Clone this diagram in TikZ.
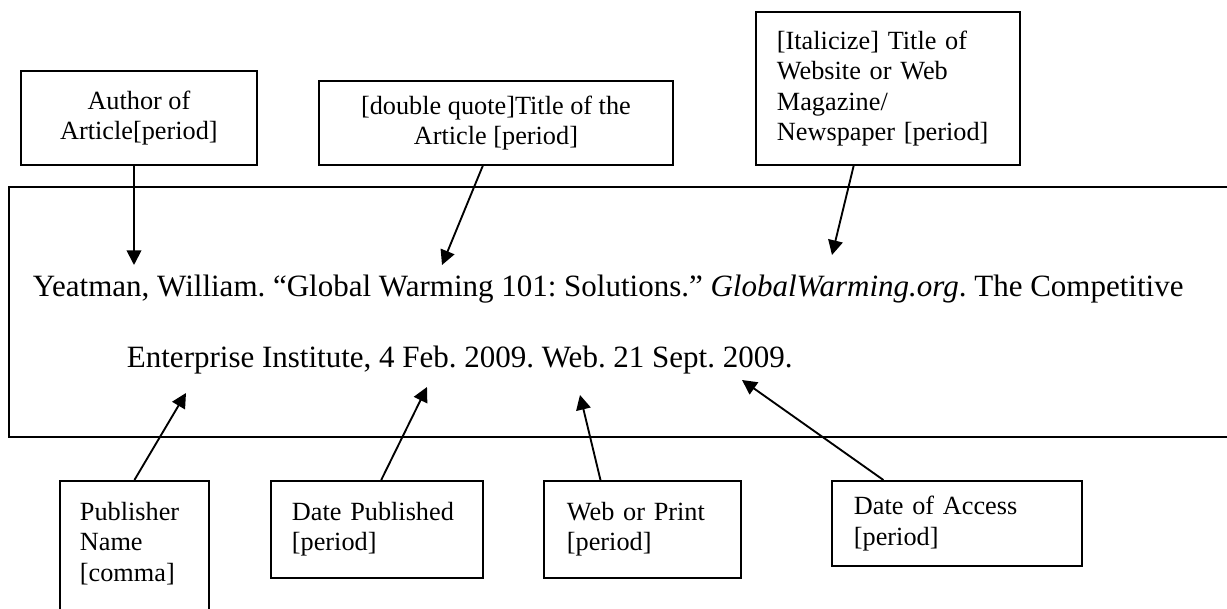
\documentclass[tikz,border=0pt]{standalone}
\usepackage{fontspec}
\setmainfont{Liberation Serif}
\usetikzlibrary{arrows.meta, positioning, calc}
\frenchspacing

\begin{document}
\begin{tikzpicture}[x=0.75pt, y=-0.75pt, line width=1.4pt,
    box/.style={draw, anchor=north west, font=\fontsize{19.7}{22.7}\selectfont},
    cbox/.style={box, align=center, inner sep=0pt},
    lbox/.style={box, align=left, inner ysep=0pt},
    arr/.style={-{Triangle[length=11pt,width=11pt]}},
    cite/.style={anchor=base west, inner sep=0pt, font=\fontsize{23.25}{27}\selectfont}]
   \useasboundingbox (0,0) rectangle (1227,609);

   % the citation, open on the right
   \draw (1227,187) -- (9,187) -- (9,437) -- (1227,437);
   \node[cite] (line1) at (32,297) {Yeatman, William. “Global Warming 101: Solutions.” \textit{GlobalWarming.org}. The Competitive};
   \node[cite] (line2) at (126,368) {Enterprise Institute, 4 Feb. 2009. Web. 21 Sept. 2009.};

   % boxes above
   \node[cbox, minimum width=177pt, minimum height=70.5pt] (author) at (20,70) {Author of\\Article[period]};
   \node[cbox, minimum width=265.5pt, minimum height=63pt] (title) at (318,80) {[double quote]Title of the\\Article [period]};
   \node[lbox, inner xsep=15.75pt, text width=166.5pt, minimum height=114.75pt] (website) at (755,11) {[Italicize] Title of\\Website or Web\\Magazine/\\Newspaper [period]};

   % boxes below
   \node[lbox, inner xsep=15pt, text width=81.75pt, minimum height=114pt] (publisher) at (59,480) {Publisher\\Name\\{}[comma]\\\mbox{}};
   \node[lbox, inner xsep=15.75pt, text width=127.5pt, minimum height=72.75pt] (published) at (270,480) {Date Published\\{}[period]};
   \node[lbox, inner xsep=17.25pt, text width=113.25pt, minimum height=72.75pt] (medium) at (543,480) {Web or Print\\{}[period]};
   \node[lbox, inner xsep=16.5pt, text width=154.5pt, minimum height=63.75pt] (access) at (831,480) {Date of Access\\{}[period]};

   \coordinate (authorTip) at (134,265);
   \coordinate (titleTip) at (442,265);
   \coordinate (websiteTip) at (832,255);
   \coordinate (publisherTip) at (186,393);
   \coordinate (publishedTip) at (427,387);
   \coordinate (mediumTip) at (580,395);
   \coordinate (accessTip) at (742,380);

   \path[arr]
    (author.south -| authorTip) edge (authorTip)
    ($(title.south west)!0.463!(title.south east)$) edge (titleTip)
    ($(website.south west)!0.371!(website.south east)$) edge (websiteTip)
    (publisher.north) edge (publisherTip)
    ($(published.north west)!0.52!(published.north east)$) edge (publishedTip)
    ($(medium.north west)!0.289!(medium.north east)$) edge (mediumTip)
    ($(access.north west)!0.208!(access.north east)$) edge (accessTip);
\end{tikzpicture}
\end{document}
